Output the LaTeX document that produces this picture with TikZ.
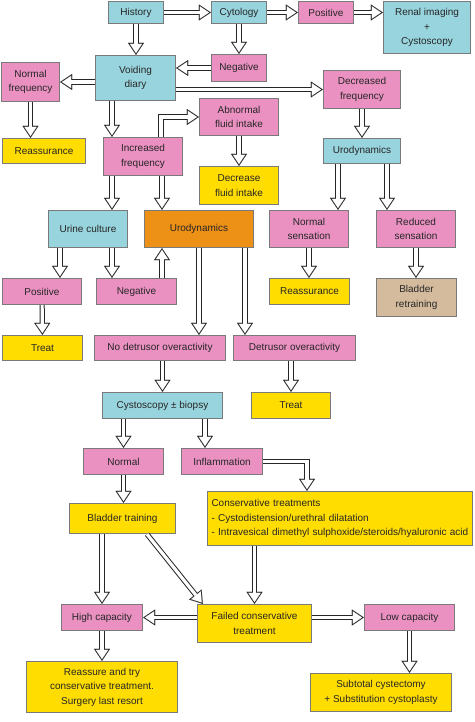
\documentclass[tikz,border=0pt]{standalone}
\usepackage{fontspec}
\setmainfont{Liberation Sans}
\usepackage{tikz}
\usetikzlibrary{arrows.meta,calc}

\definecolor{boxcyan}{HTML}{98D4DD}
\definecolor{boxpink}{HTML}{EA91C2}
\definecolor{boxyellow}{HTML}{FFDD00}
\definecolor{boxorange}{HTML}{EC9016}
\definecolor{boxtan}{HTML}{D4BB9E}
\definecolor{boxedge}{HTML}{7A7A7A}

\begin{document}
\begin{tikzpicture}[
  x=1pt, y=-1pt,
  font=\fontsize{10}{14.5}\selectfont,
  comp/.style={draw=boxedge, fill=#1, line width=1.3pt, align=center, inner sep=1pt, text=black!85},
  comp/.default=boxpink,
  flow/.style={draw=white, line width=3.2pt, shorten >=1.8pt,
    -{Triangle[length=9.2pt, width=12.3pt, line width=0.1pt]},
    preaction={draw=black!85, line width=5.2pt, shorten >=0pt,
      -{Triangle[length=12pt, width=16pt, line width=0.1pt]}}},
]
\useasboundingbox (0,0) rectangle (474,722);

% ---- top row ----
\node[comp=boxcyan, minimum width=55, minimum height=22] (hist)  at (136,12.5) {History};
\node[comp=boxcyan, minimum width=55, minimum height=22] (cyto)  at (239,12.5) {Cytology};
\node[comp, minimum width=55, minimum height=22]        (pos1)  at (326,12.5) {Positive};
\node[comp=boxcyan, minimum width=87, minimum height=52] (renal) at (427,27.5) {Renal imaging\\+\\Cystoscopy};

% ---- voiding diary ----
\node[comp, minimum width=55, minimum height=27]        (neg1)  at (239,68)   {Negative};
\node[comp=boxcyan, minimum width=80, minimum height=45] (void)  at (135.5,78) {Voiding\\diary};
\node[comp, minimum width=58, minimum height=39]        (nfreq) at (30.5,82)  {Normal\\frequency};
\node[comp, minimum width=77, minimum height=38]        (dfreq) at (362,89.5) {Decreased\\frequency};

% ---- frequency branches ----
\node[comp, minimum width=79, minimum height=37]           (abn)   at (239,117)   {Abnormal\\fluid intake};
\node[comp=boxyellow, minimum width=83, minimum height=25] (reas1) at (44,151)    {Reassurance};
\node[comp, minimum width=79, minimum height=38]           (ifreq) at (143,156.5) {Increased\\frequency};
\node[comp=boxyellow, minimum width=79, minimum height=38] (dfi)   at (239,185.5) {Decrease\\fluid intake};
\node[comp=boxcyan, minimum width=77, minimum height=25]   (uro1)  at (362,151)   {Urodynamics};

% ---- investigations ----
\node[comp=boxcyan, minimum width=79, minimum height=37]   (urine) at (88,229)  {Urine culture};
\node[comp=boxorange, minimum width=109, minimum height=37] (uro2) at (199,229) {Urodynamics};
\node[comp, minimum width=79, minimum height=37]           (nsens) at (309,229) {Normal\\sensation};
\node[comp, minimum width=79, minimum height=37]           (rsens) at (416,229) {Reduced\\sensation};

\node[comp, minimum width=79, minimum height=26]           (pos2)  at (42,291.5)    {Positive};
\node[comp, minimum width=80, minimum height=26]           (neg2)  at (136.5,291.5) {Negative};
\node[comp=boxyellow, minimum width=80, minimum height=26] (reas2) at (309.5,291.5) {Reassurance};
\node[comp=boxtan, minimum width=80, minimum height=38]    (bret)  at (416.5,297.5) {Bladder\\retraining};

\node[comp=boxyellow, minimum width=80, minimum height=25] (treat1) at (42.5,348) {Treat};
\node[comp, minimum width=131, minimum height=25]          (ndo)    at (160,348)  {No detrusor overactivity};
\node[comp, minimum width=122, minimum height=25]          (do)     at (294.5,348) {Detrusor overactivity};

% ---- cystoscopy ----
\node[comp=boxcyan, minimum width=120, minimum height=26]  (cysto)  at (162.5,405.5) {Cystoscopy ± biopsy};
\node[comp=boxyellow, minimum width=79, minimum height=26] (treat2) at (291,405.5)   {Treat};
\node[comp, minimum width=80, minimum height=26]           (norm)   at (123.5,461.5) {Normal};
\node[comp, minimum width=81, minimum height=26]           (infl)   at (222,461.5)   {Inflammation};

% ---- treatment ----
\node[comp=boxyellow, minimum width=106, minimum height=30] (btrain) at (122.5,518.5) {Bladder training};
\node[comp=boxyellow, minimum width=265, minimum height=54, align=left, text width=257] (cons) at (340,518.5)
  {Conservative treatments\\- Cystodistension/urethral dilatation\\- Intravesical dimethyl sulphoxide/steroids/hyaluronic acid};

\node[comp, minimum width=81, minimum height=26]            (high)   at (102,617.5)   {High capacity};
\node[comp=boxyellow, minimum width=114, minimum height=38] (failed) at (254.5,623.5) {Failed conservative\\treatment};
\node[comp, minimum width=90, minimum height=26]            (low)    at (409.5,617.5) {Low capacity};
\node[comp=boxyellow, minimum width=151, minimum height=51] (reass3) at (102,687)     {Reassure and try\\conservative treatment.\\Surgery last resort};
\node[comp=boxyellow, minimum width=141, minimum height=38] (subt)   at (381,692.5)   {Subtotal cystectomy\\+ Substitution cystoplasty};

% ---- arrows: top ----
\draw[flow] (hist) -- (cyto);
\draw[flow] (cyto) -- (pos1);
\draw[flow] (pos1.east) -- (pos1.east -| renal.west);
\draw[flow] (hist.south) -- (hist.south |- void.north);
\draw[flow] (cyto) -- (neg1);
\draw[flow] (neg1.west) -- (neg1.west -| void.east);
\draw[flow] (void.west |- nfreq.east) -- (nfreq.east);
\draw[flow] (void.east |- dfreq.west) -- (dfreq.west);
% ---- frequency ----
\draw[flow] (nfreq.south) -- (nfreq.south |- reas1.north);
\draw[flow] ([xshift=-23.5]void.south) -- ([xshift=-23.5]void.south |- ifreq.north);
\draw[flow] ([xshift=18]ifreq.north) |- (abn.west);
\draw[flow] (abn) -- (dfi);
\draw[flow] (dfreq) -- (uro1);
\draw[flow] ([xshift=-31]ifreq.south) -- ([xshift=-31]ifreq.south |- urine.north);
\draw[flow] ([xshift=19]ifreq.south) -- ([xshift=19]ifreq.south |- uro2.north);
\draw[flow] ([xshift=-24]uro1.south) -- ([xshift=-24]uro1.south |- nsens.north);
\draw[flow] ([xshift=25]uro1.south) -- ([xshift=25]uro1.south |- rsens.north);
% ---- investigations ----
\draw[flow] ([xshift=-28]urine.south) -- ([xshift=-28]urine.south |- pos2.north);
\draw[flow] ([xshift=24]urine.south) -- ([xshift=24]urine.south |- neg2.north);
\draw[flow] ([xshift=25.5]neg2.north) -- ([xshift=25.5]neg2.north |- uro2.south);
\draw[flow] (pos2) -- (treat1);
\draw[flow] (nsens.south) -- (nsens.south |- reas2.north);
\draw[flow] (rsens.south) -- (rsens.south |- bret.north);
\draw[flow] (uro2.south) -- (uro2.south |- ndo.north);
\draw[flow] ([xshift=46]uro2.south) -- ([xshift=46]uro2.south |- do.north);
% ---- cystoscopy ----
\draw[flow] (cysto.north |- ndo.south) -- (cysto.north);
\draw[flow] (treat2.north |- do.south) -- (treat2.north);
\draw[flow] (norm.north |- cysto.south) -- (norm.north);
\draw[flow] ([xshift=42.5]cysto.south) -- ([xshift=42.5]cysto.south |- infl.north);
\draw[flow] (infl.east) -| ([xshift=-33]cons.north);
\draw[flow] (norm.south) -- (norm.south |- btrain.north);
% ---- treatment ----
\draw[flow] (high.north |- btrain.south) -- (high.north);
\draw[flow] ([xshift=24.5]btrain.south) -- ([xshift=6]failed.north west);
\draw[flow] (cons.south -| failed.north) -- (failed.north);
\draw[flow] (failed.west |- high.east) -- (high.east);
\draw[flow] (failed.east |- low.west) -- (low.west);
\draw[flow] (high.south) -- (high.south |- reass3.north);
\draw[flow] (low.south) -- (low.south |- subt.north);
\end{tikzpicture}
\end{document}
